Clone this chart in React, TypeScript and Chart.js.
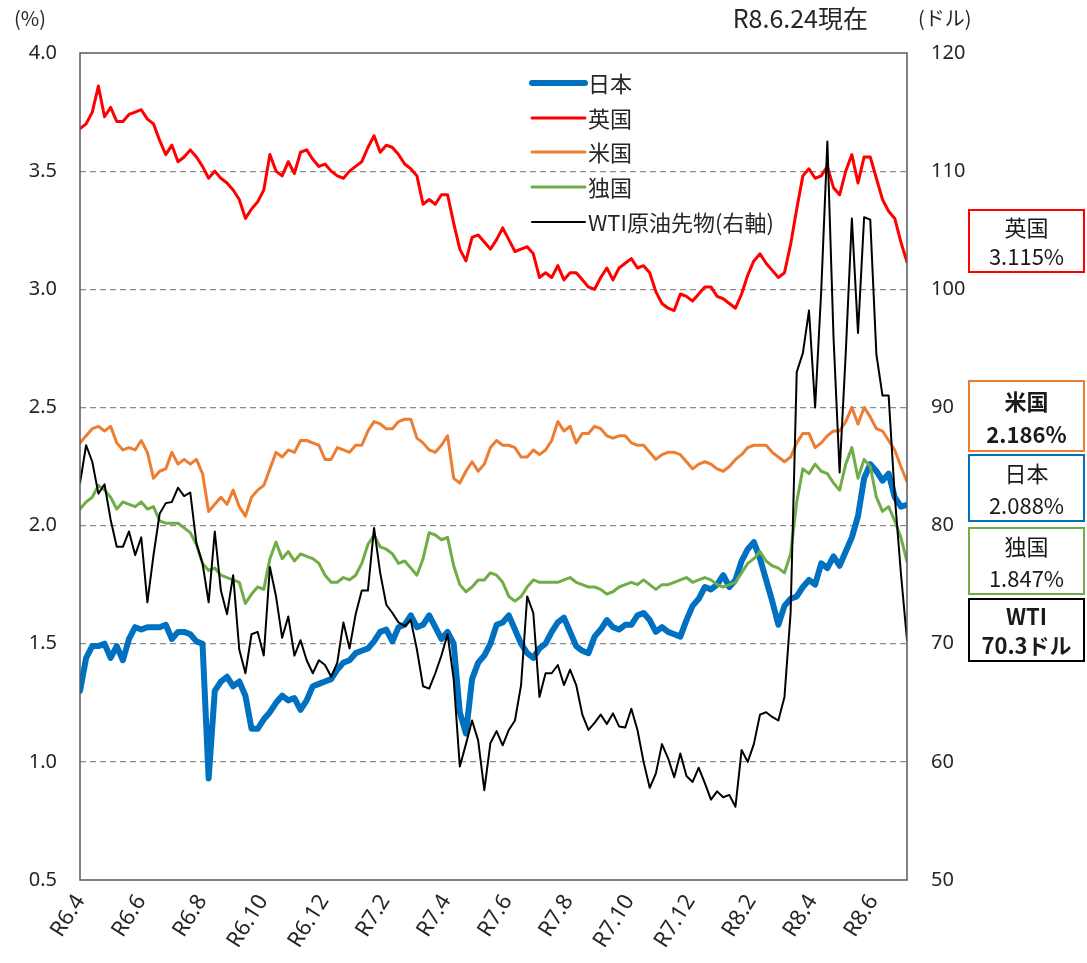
import React, { useEffect, useRef } from "react";
import { Chart, registerables } from "chart.js";

Chart.register(...registerables);

// ---- data ----
const monthLabels = ["R6.4", "R6.6", "R6.8", "R6.10", "R6.12", "R7.2", "R7.4", "R7.6", "R7.8", "R7.10", "R7.12", "R8.2", "R8.4", "R8.6"];
const monthTickValues = [0, 2, 4, 6, 8, 10, 12, 14, 16, 18, 20, 22, 24, 26];
const spanMonths = 27.1;

const seriesNames = ["日本", "英国", "米国", "独国", "WTI原油先物(右軸)"];
const latestNames = ["日本", "英国", "米国", "独国", "WTI"];
const latestValues = ["2.088%", "3.115%", "2.186%", "1.847%", "70.3ドル"];
const asOfLabel = "R8.6.24現在";
const leftUnit = "(%)";
const rightUnit = "(ドル)";

const japan = [1.30, 1.44, 1.49, 1.49, 1.50, 1.44, 1.49, 1.43, 1.52, 1.57,
  1.56, 1.57, 1.57, 1.57, 1.58, 1.52, 1.55, 1.55, 1.54, 1.51,
  1.50, 0.93, 1.30, 1.34, 1.36, 1.32, 1.34, 1.28, 1.14, 1.14,
  1.18, 1.21, 1.25, 1.28, 1.26, 1.27, 1.22, 1.26, 1.32, 1.33,
  1.34, 1.35, 1.39, 1.42, 1.43, 1.46, 1.47, 1.48, 1.51, 1.55,
  1.56, 1.51, 1.57, 1.58, 1.62, 1.57, 1.58, 1.62, 1.57, 1.52,
  1.55, 1.50, 1.21, 1.12, 1.35, 1.42, 1.45, 1.50, 1.58, 1.59,
  1.62, 1.56, 1.50, 1.46, 1.44, 1.48, 1.50, 1.55, 1.59, 1.61,
  1.55, 1.49, 1.47, 1.46, 1.53, 1.56, 1.60, 1.57, 1.56, 1.58,
  1.58, 1.62, 1.63, 1.60, 1.55, 1.57, 1.55, 1.54, 1.53, 1.60,
  1.66, 1.69, 1.74, 1.73, 1.75, 1.79, 1.74, 1.77, 1.85, 1.90,
  1.93, 1.86, 1.77, 1.68, 1.58, 1.66, 1.69, 1.70, 1.74, 1.77,
  1.75, 1.84, 1.82, 1.87, 1.83, 1.89, 1.95, 2.04, 2.20, 2.26,
  2.23, 2.19, 2.22, 2.12, 2.08, 2.088];

const uk = [3.68, 3.70, 3.75, 3.86, 3.73, 3.77, 3.71, 3.71, 3.74, 3.75,
  3.76, 3.72, 3.70, 3.63, 3.57, 3.61, 3.54, 3.56, 3.59, 3.56,
  3.52, 3.47, 3.50, 3.47, 3.45, 3.42, 3.38, 3.30, 3.34, 3.37,
  3.42, 3.57, 3.50, 3.48, 3.54, 3.49, 3.58, 3.59, 3.55, 3.52,
  3.53, 3.50, 3.48, 3.47, 3.50, 3.52, 3.54, 3.60, 3.65, 3.58,
  3.61, 3.60, 3.57, 3.53, 3.51, 3.48, 3.36, 3.38, 3.36, 3.40,
  3.40, 3.28, 3.17, 3.12, 3.22, 3.23, 3.20, 3.17, 3.21, 3.26,
  3.21, 3.16, 3.17, 3.18, 3.15, 3.05, 3.07, 3.05, 3.10, 3.04,
  3.07, 3.07, 3.04, 3.01, 3.00, 3.05, 3.09, 3.04, 3.09, 3.11,
  3.13, 3.09, 3.10, 3.07, 2.99, 2.94, 2.92, 2.91, 2.98, 2.97,
  2.95, 2.98, 3.01, 3.01, 2.97, 2.96, 2.94, 2.92, 2.98, 3.06,
  3.12, 3.15, 3.11, 3.08, 3.05, 3.07, 3.19, 3.34, 3.48, 3.51,
  3.47, 3.48, 3.52, 3.43, 3.40, 3.50, 3.57, 3.45, 3.56, 3.56,
  3.47, 3.38, 3.33, 3.30, 3.20, 3.115];

const us = [2.35, 2.38, 2.41, 2.42, 2.40, 2.42, 2.35, 2.32, 2.33, 2.32,
  2.36, 2.31, 2.20, 2.23, 2.24, 2.31, 2.26, 2.28, 2.26, 2.28,
  2.22, 2.06, 2.09, 2.12, 2.09, 2.15, 2.08, 2.04, 2.12, 2.15,
  2.17, 2.24, 2.31, 2.29, 2.32, 2.31, 2.36, 2.36, 2.35, 2.34,
  2.28, 2.28, 2.33, 2.32, 2.31, 2.34, 2.34, 2.40, 2.44, 2.43,
  2.41, 2.41, 2.44, 2.45, 2.45, 2.37, 2.35, 2.32, 2.31, 2.34,
  2.38, 2.20, 2.18, 2.23, 2.27, 2.23, 2.26, 2.33, 2.36, 2.34,
  2.34, 2.33, 2.29, 2.29, 2.32, 2.30, 2.32, 2.36, 2.44, 2.40,
  2.42, 2.35, 2.39, 2.39, 2.42, 2.41, 2.38, 2.37, 2.38, 2.38,
  2.35, 2.34, 2.34, 2.31, 2.28, 2.30, 2.31, 2.31, 2.30, 2.27,
  2.24, 2.26, 2.27, 2.26, 2.24, 2.23, 2.25, 2.28, 2.30, 2.33,
  2.34, 2.34, 2.34, 2.31, 2.29, 2.27, 2.29, 2.35, 2.39, 2.39,
  2.33, 2.35, 2.38, 2.40, 2.40, 2.44, 2.50, 2.43, 2.50, 2.46,
  2.41, 2.40, 2.36, 2.32, 2.25, 2.186];

const germany = [2.07, 2.10, 2.12, 2.17, 2.15, 2.12, 2.07, 2.10, 2.09, 2.08,
  2.10, 2.07, 2.08, 2.02, 2.01, 2.01, 2.01, 1.99, 1.97, 1.92,
  1.84, 1.81, 1.82, 1.79, 1.78, 1.77, 1.76, 1.67, 1.71, 1.74,
  1.73, 1.86, 1.93, 1.86, 1.89, 1.85, 1.88, 1.87, 1.86, 1.84,
  1.79, 1.76, 1.76, 1.78, 1.77, 1.79, 1.84, 1.92, 1.96, 1.91,
  1.90, 1.88, 1.84, 1.85, 1.82, 1.79, 1.86, 1.97, 1.96, 1.94,
  1.95, 1.83, 1.75, 1.72, 1.74, 1.77, 1.77, 1.80, 1.79, 1.76,
  1.70, 1.68, 1.70, 1.74, 1.77, 1.76, 1.76, 1.76, 1.76, 1.77,
  1.78, 1.76, 1.75, 1.74, 1.74, 1.73, 1.71, 1.72, 1.74, 1.75,
  1.76, 1.75, 1.77, 1.75, 1.73, 1.75, 1.75, 1.76, 1.77, 1.78,
  1.76, 1.77, 1.78, 1.77, 1.75, 1.74, 1.75, 1.76, 1.80, 1.84,
  1.86, 1.89, 1.85, 1.83, 1.82, 1.80, 1.88, 2.10, 2.24, 2.22,
  2.26, 2.23, 2.22, 2.18, 2.15, 2.26, 2.33, 2.20, 2.28, 2.25,
  2.12, 2.06, 2.08, 2.02, 1.95, 1.847];

const wti = [83.6, 86.8, 85.4, 82.7, 83.5, 80.5, 78.2, 78.2, 79.5, 77.5,
  79.0, 73.5, 77.5, 81.0, 81.9, 82.0, 83.2, 82.5, 82.8, 78.5,
  76.8, 73.5, 79.5, 74.5, 72.5, 75.8, 69.5, 67.5, 70.8, 71.0,
  69.0, 76.5, 74.0, 70.5, 72.3, 69.0, 70.3, 68.6, 67.5, 68.6,
  68.2, 67.2, 68.4, 71.8, 69.6, 72.5, 74.5, 74.5, 79.8, 76.0,
  73.3, 72.6, 71.8, 71.5, 72.0, 69.5, 66.4, 66.2, 67.5, 69.0,
  70.8, 67.0, 59.6, 61.5, 63.5, 61.8, 57.6, 61.6, 62.6, 61.4,
  62.7, 63.5, 66.5, 74.0, 72.6, 65.5, 67.5, 67.5, 68.2, 66.5,
  67.8, 66.5, 64.0, 62.7, 63.3, 64.0, 63.2, 64.1, 63.0, 62.9,
  64.5, 62.7, 60.0, 57.8, 59.0, 61.5, 60.3, 58.7, 60.7, 58.8,
  58.3, 59.5, 58.2, 56.8, 57.5, 57.0, 57.2, 56.2, 61.0, 60.0,
  61.5, 64.0, 64.2, 63.8, 63.5, 65.5, 72.6, 93.0, 94.6, 98.2,
  90.0, 99.9, 112.5, 96.0, 84.5, 94.6, 106.0, 96.3, 106.1, 105.9,
  94.5, 91.0, 91.0, 82.5, 76.0, 70.3];

const colors = ["#0070C0", "#FF0000", "#ED7D31", "#70AD47", "#000000"];
const widths = [6, 3, 3, 3, 2];

const FONT = "'Noto Sans', 'Noto Sans CJK JP', sans-serif";
const JFONT = "'Noto Sans CJK JP', 'Noto Sans', sans-serif";

function toPoints(values: number[]) {
  const step = spanMonths / (values.length - 1);
  return values.map((v, i) => ({ x: i * step, y: v }));
}

const overlayPlugin = {
  id: "overlay",
  afterDatasetsDraw(chart: any) {
    const ctx = chart.ctx as CanvasRenderingContext2D;
    const a = chart.chartArea;
    ctx.save();
    // plot frame
    ctx.strokeStyle = "#595959";
    ctx.lineWidth = 1.5;
    ctx.strokeRect(a.left, a.top, a.right - a.left, a.bottom - a.top);

    // legend inside plot
    const lx0 = 532, lx1 = 585, tx = 588;
    const rows = [83, 118, 152, 187, 222];
    ctx.font = `22px ${JFONT}`;
    ctx.textBaseline = "middle";
    ctx.textAlign = "left";
    for (let i = 0; i < seriesNames.length; i++) {
      ctx.beginPath();
      ctx.strokeStyle = colors[i];
      ctx.lineWidth = widths[i];
      ctx.lineCap = "round";
      ctx.moveTo(lx0, rows[i]);
      ctx.lineTo(lx1, rows[i]);
      ctx.stroke();
      ctx.fillStyle = "#262626";
      ctx.fillText(seriesNames[i], tx, rows[i] + 1);
    }
    ctx.restore();
  },
  afterDraw(chart: any) {
    const ctx = chart.ctx as CanvasRenderingContext2D;
    ctx.save();
    ctx.fillStyle = "#262626";
    ctx.textBaseline = "middle";
    ctx.font = `20px ${JFONT}`;
    ctx.textAlign = "left";
    ctx.fillText(leftUnit, 14, 18);
    ctx.fillText(rightUnit, 918, 18);
    ctx.font = `25px ${JFONT}`;
    ctx.textAlign = "right";
    ctx.fillText(asOfLabel, 868, 18);

    // latest-value boxes
    const boxes = [
      { idx: 1, top: 210, h: 62, bold: false },
      { idx: 2, top: 381, h: 70, bold: true },
      { idx: 0, top: 455, h: 66, bold: false },
      { idx: 3, top: 528, h: 66, bold: false },
      { idx: 4, top: 599, h: 62, bold: true },
    ];
    const bx = 969, bw = 115;
    for (const b of boxes) {
      ctx.fillStyle = "#FFFFFF";
      ctx.fillRect(bx, b.top, bw, b.h);
      ctx.strokeStyle = colors[b.idx];
      ctx.lineWidth = 2;
      ctx.strokeRect(bx, b.top, bw, b.h);
      ctx.fillStyle = "#1a1a1a";
      ctx.textAlign = "center";
      ctx.font = `${b.bold ? "bold " : ""}22px ${JFONT}`;
      const cx = bx + bw / 2;
      ctx.fillText(latestNames[b.idx], cx, b.top + b.h * 0.29);
      ctx.fillText(latestValues[b.idx], cx, b.top + b.h * 0.76);
    }
    ctx.restore();
  },
};

export default function App() {
  const ref = useRef<HTMLCanvasElement | null>(null);
  useEffect(() => {
    document.body.style.margin = "0";
    if (!ref.current) return;
    const mk = (label: string, values: number[], i: number, axis: string) => ({
      label,
      data: toPoints(values),
      borderColor: colors[i],
      backgroundColor: colors[i],
      borderWidth: widths[i],
      pointRadius: 0,
      tension: 0,
      borderJoinStyle: "round" as const,
      borderCapStyle: "round" as const,
      yAxisID: axis,
      order: 5 - i,
    });
    const chart = new Chart(ref.current, {
      type: "line",
      data: {
        datasets: [
          mk(seriesNames[0], japan, 0, "y"),
          mk(seriesNames[1], uk, 1, "y"),
          mk(seriesNames[2], us, 2, "y"),
          mk(seriesNames[3], germany, 3, "y"),
          mk(seriesNames[4], wti, 4, "y2"),
        ],
      },
      options: {
        animation: false,
        responsive: true,
        maintainAspectRatio: false,
        layout: { padding: { top: 53, left: 0, right: 0, bottom: 0 } },
        plugins: { legend: { display: false }, tooltip: { enabled: false } },
        scales: {
          x: {
            type: "linear",
            min: 0,
            max: spanMonths,
            grid: { display: false, drawTicks: false },
            border: { display: false },
            afterBuildTicks: (scale: any) => {
              scale.ticks = monthTickValues.map((v) => ({ value: v }));
            },
            afterFit: (scale: any) => {
              scale.height = 83;
              scale.paddingLeft = 0;
              scale.paddingRight = 0;
            },
            ticks: {
              autoSkip: false,
              minRotation: 58,
              maxRotation: 58,
              padding: 10,
              color: "#262626",
              font: { family: FONT, size: 22 },
              callback: (v: any) => {
                const k = monthTickValues.indexOf(Number(v));
                return k >= 0 ? monthLabels[k] : "";
              },
            },
          },
          y: {
            position: "left",
            min: 0.5,
            max: 4.0,
            grid: {
              drawTicks: false,
              color: (c: any) => (c.tick && (c.tick.value <= 0.5 || c.tick.value >= 4.0) ? "rgba(0,0,0,0)" : "#8c8c8c"),
              lineWidth: 1.2,
            },
            border: { display: false, dash: [6, 4] },
            afterFit: (scale: any) => {
              scale.width = 80;
            },
            ticks: {
              stepSize: 0.5,
              padding: 23,
              color: "#262626",
              font: { family: FONT, size: 20 },
              callback: (v: any) => Number(v).toFixed(1),
            },
          },
          y2: {
            position: "right",
            min: 50,
            max: 120,
            grid: { display: false, drawTicks: false },
            border: { display: false },
            afterFit: (scale: any) => {
              scale.width = 180;
            },
            ticks: {
              stepSize: 10,
              padding: 24,
              color: "#262626",
              font: { family: FONT, size: 20 },
            },
          },
        },
      },
      plugins: [overlayPlugin],
    });
    return () => chart.destroy();
  }, []);
  return (
    <div style={{ width: 1087, height: 963, position: "relative", background: "#fff" }}>
      <canvas ref={ref} />
    </div>
  );
}
